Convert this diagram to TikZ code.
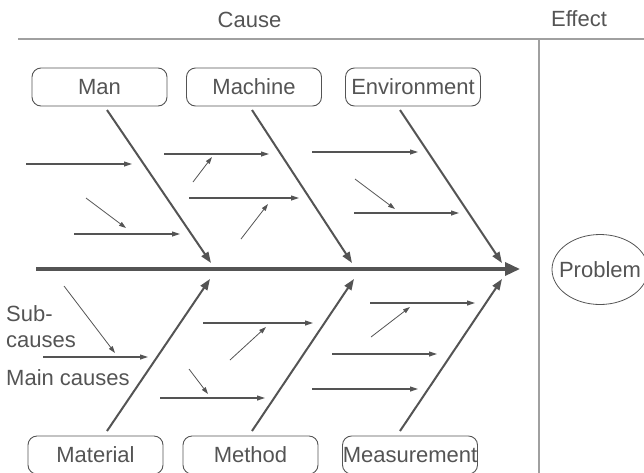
\documentclass[tikz,border=0pt]{standalone}
\usepackage{fontspec}
\setmainfont{Liberation Sans}
\usetikzlibrary{arrows.meta,shapes.geometric}
\definecolor{ink}{HTML}{545454}
\definecolor{rule}{HTML}{A0A0A0}
\begin{document}
\begin{tikzpicture}[x=1pt,y=-1pt,
  font=\fontsize{22}{25}\selectfont, text=ink,
  catbox/.style={draw=ink, line width=0.9pt, rounded corners=9pt, minimum width=135pt, minimum height=38pt, inner sep=0pt, text height=15.5pt, text depth=0pt},
  bone/.style={draw=ink, line width=2pt, -{Triangle[length=11pt,width=8pt]}},
  sub/.style={draw=ink, line width=1.1pt, -{Triangle[length=8pt,width=5pt]}},
  subsub/.style={draw=ink, line width=0.8pt, -{Triangle[length=7pt,width=4.5pt]}},
  lbl/.style={anchor=base west, inner sep=0pt}]
\useasboundingbox (0,0) rectangle (644,472);
% header
\node[anchor=base, inner sep=0pt] (cause) at (249.5,27) {Cause};
\node[anchor=base, inner sep=0pt] (effect) at (579,26) {Effect};
\draw[rule, line width=1.4pt] (18,39) -- (644,39);
\draw[rule, line width=1.4pt] (539,39) -- (539,474);
% spine
\coordinate (tail) at (36,269);
\node[ellipse, draw=ink, line width=0.8pt, minimum width=96pt, minimum height=70pt, inner sep=0pt] (problem) at (600,269.5) {};
\node[anchor=base, inner sep=0pt] (ptext) at (600,277.5) {Problem};
\coordinate (head) at (520,269);
\draw[draw=ink, line width=3.4pt, -{Triangle[length=15pt,width=13pt]}] (tail) -- (head);
% category boxes
\node[catbox] (man) at (99.5,87) {Man};
\node[catbox] (machine) at (254,87) {Machine};
\node[catbox] (env) at (413,87) {Environment};
\node[catbox] (material) at (95.5,455) {Material};
\node[catbox] (method) at (250.5,455) {Method};
\node[catbox] (meas) at (410,455) {Measurement};
% bone end points
\coordinate (manS) at (107,110);   \coordinate (manT) at (211,263);
\coordinate (macS) at (252,110);   \coordinate (macT) at (352,263);
\coordinate (envS) at (400,110);   \coordinate (envT) at (502,263);
\coordinate (matS) at (107,431);   \coordinate (matT) at (210,279);
\coordinate (metS) at (252,431);   \coordinate (metT) at (354,279);
\coordinate (measS) at (400,431);  \coordinate (measT) at (502,279);
\draw[bone] (manS) -- (manT);
\draw[bone] (macS) -- (macT);
\draw[bone] (envS) -- (envT);
\draw[bone] (matS) -- (matT);
\draw[bone] (metS) -- (metT);
\draw[bone] (measS) -- (measT);
% sub-causes, top
\draw[sub] (26,164) -- (132,164);
\draw[sub] (74,234) -- (180,234);
\draw[subsub] (86,198) -- (126,228);
\draw[sub] (164,154) -- (269,154);
\draw[subsub] (193,182) -- (212,157);
\draw[sub] (189,198) -- (299,198);
\draw[subsub] (241,239) -- (268,204);
\draw[sub] (312,152) -- (418,152);
\draw[subsub] (355,179) -- (395,209);
\draw[sub] (354,213) -- (459,213);
% sub-causes, bottom
\draw[subsub] (64,286) -- (115,353);
\draw[sub] (43,357) -- (148,357);
\draw[sub] (203,323) -- (313,323);
\draw[subsub] (230,360) -- (266,327);
\draw[subsub] (189,369) -- (208,394);
\draw[sub] (160,398) -- (265,398);
\draw[sub] (370,303) -- (475,303);
\draw[subsub] (371,337) -- (410,307);
\draw[sub] (332,354) -- (437,354);
\draw[sub] (312,389) -- (418,389);
% legend
\node[lbl] (sub1) at (6,321) {Sub-};
\node[lbl] (sub2) at (6,347) {causes};
\node[lbl] (mainc) at (6,385) {Main causes};
\end{tikzpicture}
\end{document}
